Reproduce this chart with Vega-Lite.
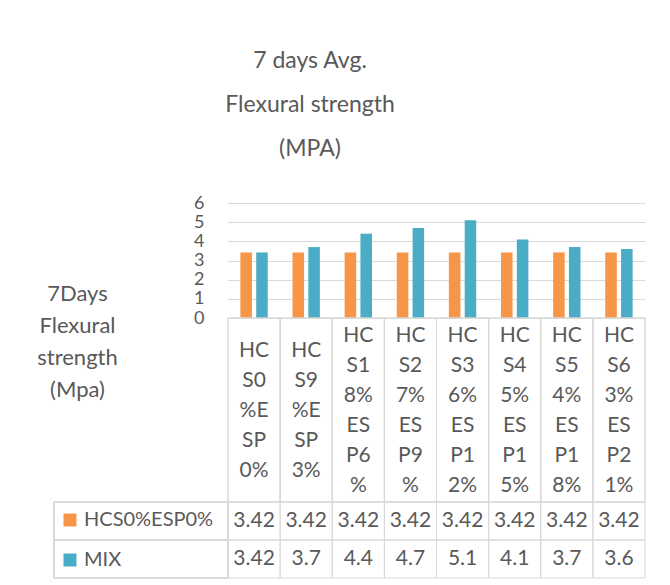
{
  "$schema": "https://vega.github.io/schema/vega-lite/v6.json",
  "background": "white",
  "padding": {"left": 36, "top": 50, "right": 5, "bottom": 5},
  "autosize": {"type": "pad"},
  "bounds": "flush",
  "spacing": 0,
  "columns": 2,
  "title": {
    "text": ["7 days Avg.", "Flexural strength", "(MPA)"],
    "fontSize": 23, "lineHeight": 44, "font": "Lato", "fontWeight": "normal",
    "color": "#595959", "anchor": "middle", "frame": "group", "dx": 256, "offset": 33
  },
  "datasets": {
    "flex": [
      {"cat": "HCS0%ESP0%", "series": "HCS0%ESP0%", "value": 3.42},
      {"cat": "HCS9%ESP3%", "series": "HCS0%ESP0%", "value": 3.42},
      {"cat": "HCS18%ESP6%", "series": "HCS0%ESP0%", "value": 3.42},
      {"cat": "HCS27%ESP9%", "series": "HCS0%ESP0%", "value": 3.42},
      {"cat": "HCS36%ESP12%", "series": "HCS0%ESP0%", "value": 3.42},
      {"cat": "HCS45%ESP15%", "series": "HCS0%ESP0%", "value": 3.42},
      {"cat": "HCS54%ESP18%", "series": "HCS0%ESP0%", "value": 3.42},
      {"cat": "HCS63%ESP21%", "series": "HCS0%ESP0%", "value": 3.42},
      {"cat": "HCS0%ESP0%", "series": "MIX", "value": 3.42},
      {"cat": "HCS9%ESP3%", "series": "MIX", "value": 3.7},
      {"cat": "HCS18%ESP6%", "series": "MIX", "value": 4.4},
      {"cat": "HCS27%ESP9%", "series": "MIX", "value": 4.7},
      {"cat": "HCS36%ESP12%", "series": "MIX", "value": 5.1},
      {"cat": "HCS45%ESP15%", "series": "MIX", "value": 4.1},
      {"cat": "HCS54%ESP18%", "series": "MIX", "value": 3.7},
      {"cat": "HCS63%ESP21%", "series": "MIX", "value": 3.6}
    ]
  },
  "resolve": {"scale": {"x": "independent", "y": "independent", "color": "independent"}},
  "concat": [
    {
      "width": 174, "height": 115,
      "data": {"values": []},
      "mark": "point",
      "encoding": {}
    },
    {
      "width": 417, "height": 115,
      "data": {"name": "flex"},
      "mark": {"type": "bar"},
      "encoding": {
        "x": {
          "field": "cat", "type": "nominal", "sort": null,
          "scale": {"paddingInner": 0.475, "paddingOuter": 0.2375},
          "axis": {
            "title": null, "domain": false, "ticks": false,
            "labelPadding": {"condition": {"test": "length(datum.value) > 10", "value": 17}, "value": 32},
            "labelBaseline": "middle", "labelAngle": 0, "labelFontSize": 21,
            "labelLineHeight": 30, "labelOverlap": false, "labelBound": false, "labelLimit": 0,
            "labelExpr": "length(datum.value) > 10 ? [slice(datum.value,0,2), slice(datum.value,2,4), slice(datum.value,4,6), slice(datum.value,6,8), slice(datum.value,8,10), slice(datum.value,10,12)] : [slice(datum.value,0,2), slice(datum.value,2,4), slice(datum.value,4,6), slice(datum.value,6,8), slice(datum.value,8,10)]"
          }
        },
        "xOffset": {"field": "series", "type": "nominal", "sort": ["HCS0%ESP0%", "MIX"], "scale": {"paddingInner": 0.27}},
        "y": {
          "field": "value", "type": "quantitative",
          "scale": {"domain": [0, 6]},
          "axis": {
            "values": [0, 1, 2, 3, 4, 5, 6],
            "title": ["7Days", "Flexural", "strength", "(Mpa)"],
            "titleAngle": 0, "titleAlign": "center", "titleBaseline": "middle",
            "titleX": -151, "titleY": 90, "titleFontSize": 22, "titleLineHeight": 32,
            "titleFontWeight": "normal",
            "domain": false, "ticks": false, "labelFontSize": 18, "labelPadding": 24,
            "labelOverlap": false, "labelBound": false,
            "gridColor": "#d9d9d9"
          }
        },
        "color": {
          "field": "series", "type": "nominal", "sort": ["HCS0%ESP0%", "MIX"],
          "scale": {"range": ["#f79646", "#4bacc6"]},
          "legend": {
            "orient": "none", "legendX": -168, "legendY": 307, "title": null,
            "symbolType": "square", "symbolSize": 169, "symbolStrokeWidth": 0,
            "labelFontSize": 20, "labelColor": "#595959", "labelOffset": 4,
            "rowPadding": 20, "padding": 0, "direction": "vertical"
          }
        }
      }
    },
    {
      "width": 174, "height": 184,
      "data": {"values": []},
      "mark": "point",
      "encoding": {}
    },
    {
      "width": 417, "height": 184,
      "data": {"name": "flex"},
      "mark": {"type": "rect", "fill": "transparent", "stroke": "#d9d9d9", "strokeWidth": 1},
      "encoding": {
        "x": {"field": "cat", "type": "nominal", "sort": null, "scale": {"padding": 0}, "axis": null}
      }
    },
    {
      "width": 174, "height": 76,
      "data": {"name": "flex"},
      "mark": {"type": "rect", "fill": "transparent", "stroke": "#d9d9d9", "strokeWidth": 1},
      "encoding": {
        "y": {"field": "series", "type": "nominal", "sort": ["HCS0%ESP0%", "MIX"], "scale": {"padding": 0}, "axis": null}
      }
    },
    {
      "width": 417, "height": 76,
      "data": {"name": "flex"},
      "encoding": {
        "x": {"field": "cat", "type": "nominal", "sort": null, "scale": {"padding": 0}, "axis": null},
        "y": {"field": "series", "type": "nominal", "sort": ["HCS0%ESP0%", "MIX"], "scale": {"padding": 0}, "axis": null}
      },
      "layer": [
        {"mark": {"type": "rect", "fill": "transparent", "stroke": "#d9d9d9", "strokeWidth": 1}},
        {
          "mark": {"type": "text", "fontSize": 21, "color": "#595959", "align": "center", "baseline": "middle"},
          "encoding": {"text": {"field": "value", "type": "nominal"}}
        }
      ]
    }
  ],
  "config": {
    "font": "Lato",
    "view": {"stroke": null},
    "axis": {"labelColor": "#595959", "titleColor": "#595959", "labelFont": "Lato", "titleFont": "Lato"},
    "legend": {"labelFont": "Lato"},
    "text": {"font": "Lato"}
  }
}
